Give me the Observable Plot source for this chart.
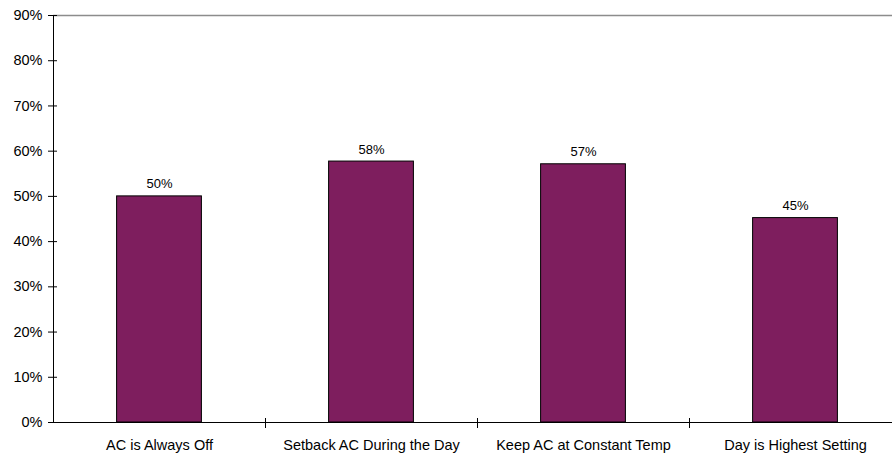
<!DOCTYPE html>
<html>
<head>
<meta charset="utf-8">
<script src="https://cdn.jsdelivr.net/npm/d3@7"></script>
<script src="https://cdn.jsdelivr.net/npm/@observablehq/plot@0.6"></script>
<style>
  html, body { margin: 0; padding: 0; background: #fff; }
  #chart svg { display: block; }
</style>
</head>
<body>
<div id="chart"></div>
<script>
// Share of households by air-conditioning strategy
const categories = [
  "AC is Always Off",
  "Setback AC During the Day",
  "Keep AC at Constant Temp",
  "Day is Highest Setting"
];
const values = [0.50, 0.577, 0.571, 0.452];
const yTicks = [0, 0.1, 0.2, 0.3, 0.4, 0.5, 0.6, 0.7, 0.8, 0.9];

const data = categories.map((c, i) => ({category: c, value: values[i]}));
const pct = d3.format(".0%");

const bandStep = (901 - 53) / categories.length;
const half = bandStep / 2;
const barInset = bandStep * 0.3;

const chart = Plot.plot({
  width: 892,
  height: 454,
  marginTop: 15,
  marginBottom: 32,
  marginLeft: 53,
  marginRight: 0,
  style: {fontFamily: "'Liberation Sans', Arial, sans-serif", fontSize: "14.5px", color: "#000", background: "#fff"},
  x: {type: "band", domain: categories, range: [53, 901], padding: 0, label: null},
  y: {domain: [0, 0.9], range: [422, 15], label: null},
  marks: [
    // top boundary at 90%
    Plot.ruleY([0.9], {stroke: "#8c8c8c", strokeWidth: 1.3}),
    Plot.barY(data, {
      x: "category", y: "value",
      fill: "#7e1e5e", stroke: "#000", strokeWidth: 1,
      insetLeft: barInset, insetRight: barInset
    }),
    Plot.text(data, {
      x: "category", y: "value", text: d => pct(d.value),
      lineAnchor: "bottom", dy: -8, fontSize: 13, fill: "#000"
    }),
    // axis lines
    Plot.ruleY([0], {stroke: "#000"}),
    Plot.ruleX([categories[0]], {y1: 0, y2: 0.9, dx: -half, stroke: "#000"}),
    // category separators on the x axis
    Plot.ruleX(categories.slice(1), {y1: 0, y2: 0, dx: -half, insetTop: -4, insetBottom: -6, stroke: "#000"}),
    // y ticks crossing the axis, then their labels
    Plot.axisY(yTicks, {tickSize: 9, dx: 4, tickFormat: () => "", stroke: "#000", label: null}),
    Plot.axisY(yTicks, {tickSize: 0, tickPadding: 11, tickFormat: pct, fill: "#000", label: null}),
    Plot.axisX({tickSize: 0, tickPadding: 17, fill: "#000", label: null})
  ]
});

document.getElementById("chart").appendChild(chart);
</script>
</body>
</html>
